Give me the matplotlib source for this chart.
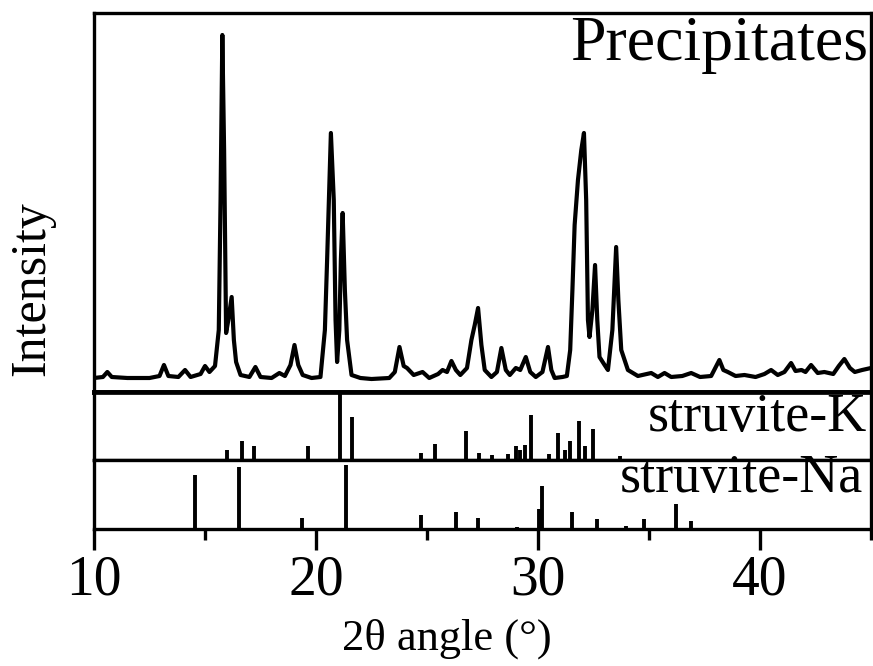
import matplotlib
matplotlib.use("Agg")
import matplotlib.pyplot as plt
from matplotlib.ticker import MultipleLocator

plt.rcParams['font.family'] = ['Liberation Serif', 'DejaVu Serif']

# measured pattern of the precipitates (2theta in degrees, intensity in a.u.)
two_theta = [10.0, 10.4, 10.6, 10.8, 11.5, 12.5, 12.95, 13.15, 13.35, 13.8, 14.1, 14.35,
             14.8, 15.0, 15.2, 15.45, 15.62, 15.7, 15.78, 15.86, 15.95, 16.05, 16.2, 16.3,
             16.4, 16.6, 17.0, 17.27, 17.5, 18.0, 18.35, 18.6, 18.85, 19.03, 19.2, 19.4,
             19.8, 20.2, 20.4, 20.5, 20.67, 20.8, 20.88, 20.95, 21.05, 21.12, 21.2, 21.3,
             21.4, 21.6, 22.0, 22.5, 23.3, 23.55, 23.76, 23.95, 24.1, 24.4, 24.8, 25.1,
             25.5, 25.7, 25.9, 26.1, 26.3, 26.5, 26.8, 27.0, 27.15, 27.3, 27.45, 27.6,
             27.9, 28.15, 28.35, 28.55, 28.73, 29.0, 29.2, 29.45, 29.65, 29.9, 30.2, 30.45,
             30.6, 30.75, 31.1, 31.3, 31.45, 31.55, 31.65, 31.8, 31.95, 32.07, 32.17, 32.25,
             32.32, 32.45, 32.57, 32.67, 32.77, 33.0, 33.15, 33.35, 33.52, 33.62, 33.75, 34.05,
             34.5, 35.1, 35.4, 35.7, 36.0, 36.5, 36.9, 37.3, 37.8, 38.17, 38.35, 38.55,
             38.9, 39.3, 39.8, 40.2, 40.5, 40.8, 41.1, 41.4, 41.6, 41.87, 42.05, 42.3,
             42.6, 42.9, 43.3, 43.55, 43.8, 44.05, 44.27, 44.6, 45.0]
intensity = [14, 15, 20, 15, 14, 14, 16, 27, 16, 15, 22, 15,
             18, 26, 20, 26, 62, 192, 357, 242, 59, 72, 95, 52,
             30, 17, 15, 25, 15, 14, 19, 16, 27, 47, 27, 17,
             14, 15, 62, 132, 259, 192, 72, 30, 62, 132, 179, 102,
             52, 17, 14, 13, 14, 20, 45, 26, 24, 17, 20, 14,
             18, 22, 20, 31, 22, 17, 24, 52, 67, 84, 47, 22,
             15, 20, 44, 22, 17, 24, 22, 35, 20, 15, 20, 45,
             22, 14, 15, 16, 42, 102, 167, 212, 242, 259, 192, 72,
             55, 82, 127, 72, 35, 27, 22, 62, 145, 92, 42, 22,
             16, 19, 15, 19, 15, 16, 19, 15, 16, 32, 22, 20,
             16, 17, 15, 18, 22, 17, 20, 29, 21, 22, 20, 27,
             19, 20, 18, 26, 33, 24, 20, 22, 24]

# reference patterns (peak position, relative intensity %)
k_pos = [15.97, 16.65, 17.19, 19.66, 21.06, 21.6, 24.74, 25.37, 26.76, 27.35, 27.93, 28.65,
         29.0, 29.2, 29.4, 29.7, 30.5, 30.9, 31.2, 31.45, 31.85, 32.1, 32.47, 33.7]
k_int = [14, 28, 20, 20, 100, 63, 11, 23, 42, 11, 8, 9,
         20, 15, 22, 66, 9, 40, 14, 28, 57, 20, 45, 6]

na_pos = [14.55, 16.52, 19.38, 21.33, 24.71, 26.3, 27.3, 29.05, 30.05, 30.2, 31.55, 32.68,
          33.95, 34.77, 36.2, 36.9]
na_int = [78, 90, 16, 93, 20, 25, 16, 3, 29, 62, 25, 14,
          4, 14, 36, 12]

fig = plt.figure(figsize=(8.73, 6.66), dpi=100)
gs = fig.add_gridspec(3, 1, height_ratios=[379, 68, 69], hspace=0,
                      left=0.1077, right=0.9977, top=0.9805, bottom=0.2057)
ax_top = fig.add_subplot(gs[0])
ax_k = fig.add_subplot(gs[1], sharex=ax_top)
ax_na = fig.add_subplot(gs[2], sharex=ax_top)

ax_top.plot(two_theta, intensity, color='black', lw=3.0, solid_joinstyle='round')
ax_top.set_ylim(0, 379)
ax_top.text(0.996, 0.876, 'Precipitates', transform=ax_top.transAxes,
            ha='right', va='baseline', fontsize=46)

ax_k.vlines(k_pos, 0, k_int, color='black', lw=2.8)
ax_k.set_ylim(0, 100)
ax_k.text(0.995, 0.43, 'struvite-K', transform=ax_k.transAxes,
          ha='right', va='baseline', fontsize=39)

ax_na.vlines(na_pos, 0, na_int, color='black', lw=2.8)
ax_na.set_ylim(0, 100)
ax_na.text(0.99, 0.53, 'struvite-Na', transform=ax_na.transAxes,
           ha='right', va='baseline', fontsize=39)

for ax in (ax_top, ax_k, ax_na):
    for s in ax.spines.values():
        s.set_linewidth(2.4)
    ax.set_yticks([])
    ax.tick_params(axis='x', which='both', bottom=False, labelbottom=False)
ax_top.spines['bottom'].set_linewidth(3.4)
ax_k.spines['top'].set_linewidth(3.4)

ax_na.set_xlim(10, 45)
ax_na.xaxis.set_major_locator(MultipleLocator(10))
ax_na.xaxis.set_minor_locator(MultipleLocator(5))
ax_na.tick_params(axis='x', which='both', direction='out', bottom=True, labelbottom=True,
                  width=2.4)
ax_na.tick_params(axis='x', which='major', length=15, labelsize=40, pad=3)
ax_na.tick_params(axis='x', which='minor', length=8)

ax_na.set_xlabel('2θ angle (°)', fontsize=32)
ax_na.xaxis.set_label_coords(0.454, -1.3)
ax_top.set_ylabel('Intensity', fontsize=36)
ax_top.yaxis.set_label_coords(-0.05, 0.274)

fig.savefig('out.png', dpi=100)
